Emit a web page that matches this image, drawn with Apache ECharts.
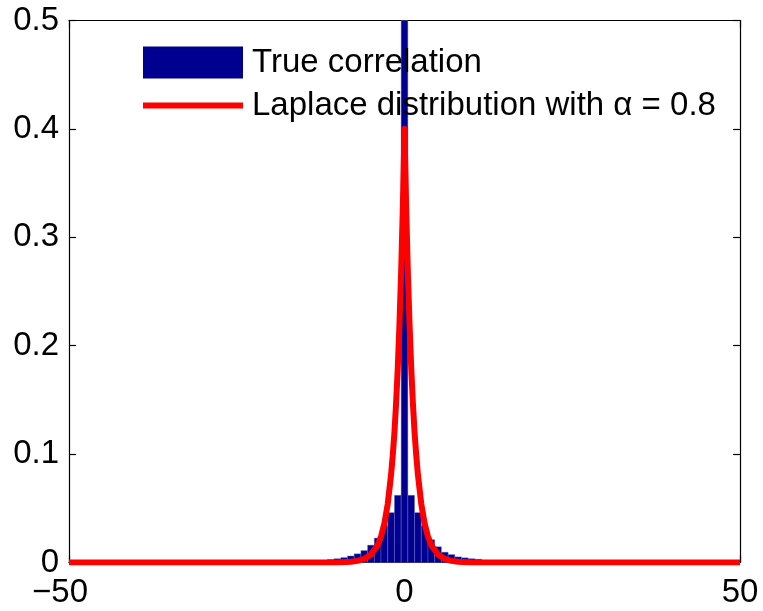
<!DOCTYPE html>
<html>
<head>
<meta charset="utf-8">
<script src="https://cdn.jsdelivr.net/npm/echarts@6/dist/echarts.min.js"></script>
<style>
html,body{margin:0;padding:0;background:#fff;}
#chart{width:763px;height:611px;}
</style>
</head>
<body>
<div id="chart"></div>
<script>
// ---- data ----
var histCenters = [-13,-12,-11,-10,-9,-8,-7,-6,-5,-4,-3,-2,-1,0,1,2,3,4,5,6,7,8,9,10,11,12,13];
var histValues  = [0.0012,0.0018,0.0028,0.0035,0.0045,0.006,0.008,0.011,0.016,0.0225,0.034,0.046,0.062,0.5,
                   0.062,0.046,0.034,0.021,0.0145,0.0095,0.0073,0.0052,0.0043,0.0035,0.003,0.002,0.0012];
var histBinWidth = 1;

var laplaceX = [-50,-10,-8,-7,-6,-5,-4,-3.5,-3,-2.5,-2,-1.75,-1.5,-1.25,-1,-0.75,-0.5,-0.25,0,
                0.25,0.5,0.75,1,1.25,1.5,1.75,2,2.5,3,3.5,4,5,6,7,8,10,50];
var laplaceY = [0,0.0001,0.0007,0.0015,0.0033,0.0073,0.016,0.024,0.036,0.054,0.081,0.099,0.12,0.147,0.18,0.22,0.268,0.327,0.4,
                0.327,0.268,0.22,0.18,0.147,0.12,0.099,0.081,0.054,0.036,0.024,0.016,0.0073,0.0033,0.0015,0.0007,0.0001,0];

var xTicks = [-50, 0, 50];
var yTicks = [0, 0.1, 0.2, 0.3, 0.4, 0.5];
var seriesNames = ['True correlation', 'Laplace distribution with \u03B1 = 0.8'];

// ---- build ----
var FONT = "'Liberation Sans', Arial, Helvetica, sans-serif";
var FS = 33;
var histData = histCenters.map(function (c, i) { return [c, histValues[i]]; });
var lineData = laplaceX.map(function (x, i) { return [x, laplaceY[i]]; });

var chart = echarts.init(document.getElementById('chart'), null, {renderer: 'canvas'});

function axisCommon() {
  return {
    axisLine: {show: true, onZero: false, lineStyle: {color: '#000', width: 1.2}},
    axisTick: {show: true, inside: true, length: 7, lineStyle: {color: '#000', width: 1.2}},
    splitLine: {show: false}
  };
}

var option = {
  backgroundColor: '#fff',
  animation: false,
  textStyle: {fontFamily: FONT},
  grid: {left: 69, right: 23, top: 20.5, bottom: 48.5, containLabel: false},
  legend: [
    {
      data: [{name: seriesNames[0], icon: 'rect', itemStyle: {color: '#000090'}}],
      left: 138, top: 41, itemWidth: 100, itemHeight: 32,
      selectedMode: false,
      textStyle: {fontSize: FS, color: '#000', fontFamily: FONT, padding: [0, 0, 0, 4]}
    },
    {
      data: [{name: seriesNames[1], icon: 'rect', itemStyle: {color: '#ff0000'}}],
      left: 138, top: 84, itemWidth: 100, itemHeight: 6,
      selectedMode: false,
      textStyle: {fontSize: FS, color: '#000', fontFamily: FONT, padding: [0, 0, 0, 4]}
    }
  ],
  xAxis: [
    Object.assign({
      type: 'value', min: xTicks[0], max: xTicks[xTicks.length - 1], interval: 50, position: 'bottom',
      axisLabel: {
        fontSize: FS, color: '#000', fontFamily: FONT, margin: 14,
        formatter: function (v) { return v < 0 ? '{neg|\u2212' + (-v) + '}' : String(v); },
        rich: {neg: {fontSize: FS, color: '#000', fontFamily: FONT, padding: [0, 18, 0, 0]}}
      }
    }, axisCommon()),
    Object.assign({
      type: 'value', min: xTicks[0], max: xTicks[xTicks.length - 1], interval: 50, position: 'top',
      axisLabel: {show: false}
    }, axisCommon())
  ],
  yAxis: [
    Object.assign({
      type: 'value', min: yTicks[0], max: yTicks[yTicks.length - 1], interval: 0.1, position: 'left',
      axisLabel: {fontSize: FS, color: '#000', fontFamily: FONT, margin: 10}
    }, axisCommon()),
    Object.assign({
      type: 'value', min: yTicks[0], max: yTicks[yTicks.length - 1], interval: 0.1, position: 'right',
      axisLabel: {show: false}
    }, axisCommon())
  ],
  series: [
    {
      name: seriesNames[0],
      type: 'custom',
      xAxisIndex: 0, yAxisIndex: 0,
      z: 2,
      itemStyle: {color: '#000090'},
      renderItem: function (params, api) {
        var c = api.value(0), v = api.value(1);
        var p0 = api.coord([c - histBinWidth / 2, v]);
        var p1 = api.coord([c + histBinWidth / 2, 0]);
        return {
          type: 'rect',
          shape: {x: p0[0], y: p0[1], width: p1[0] - p0[0], height: p1[1] - p0[1]},
          style: {fill: '#000090', stroke: 'rgba(110,110,200,0.7)', lineWidth: 0.6}
        };
      },
      encode: {x: 0, y: 1},
      data: histData
    },
    {
      name: seriesNames[1],
      type: 'line',
      xAxisIndex: 0, yAxisIndex: 0,
      z: 3,
      symbol: 'none',
      smooth: false,
      lineStyle: {color: '#ff0000', width: 6, join: 'round', cap: 'butt'},
      itemStyle: {color: '#ff0000'},
      data: lineData
    }
  ]
};
chart.setOption(option);
</script>
</body>
</html>
